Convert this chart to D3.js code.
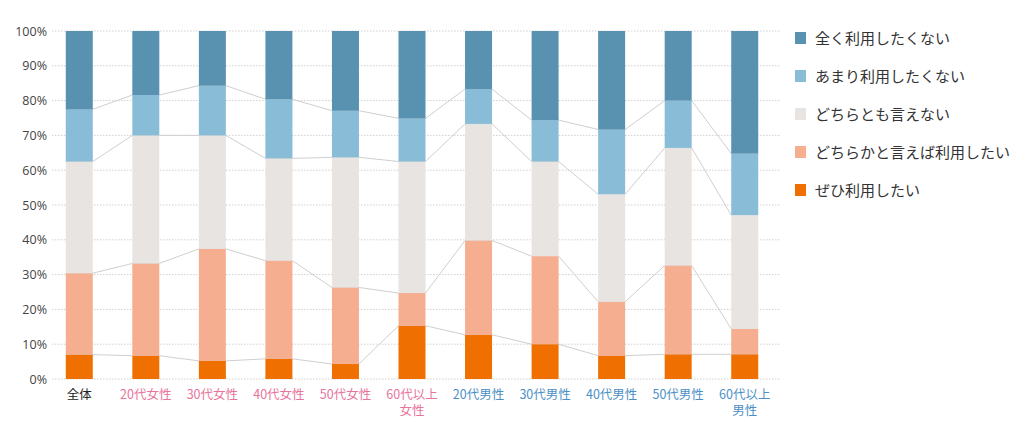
<!DOCTYPE html>
<html>
<head>
<meta charset="utf-8">
<script src="https://cdn.jsdelivr.net/npm/d3@7"></script>
<style>
  body { margin: 0; background: #fff; }
  text { font-family: "Noto Sans CJK JP", "Noto Sans", sans-serif; }
</style>
</head>
<body>
<div id="chart"></div>
<script>
// categories and series (percent of respondents)
var categories = ["全体", "20代女性", "30代女性", "40代女性", "50代女性", "60代以上\n女性",
  "20代男性", "30代男性", "40代男性", "50代男性", "60代以上\n男性"];
var categoryGroup = ["all", "f", "f", "f", "f", "f", "m", "m", "m", "m", "m"];

var seriesNames = ["ぜひ利用したい", "どちらかと言えば利用したい", "どちらとも言えない", "あまり利用したくない", "全く利用したくない"];
var zehi     = [7.0, 6.7, 5.2, 5.8, 4.3, 15.3, 12.7, 10.0, 6.7, 7.1, 7.1];
var dochiraka = [23.4, 26.5, 32.2, 28.2, 22.0, 9.4, 27.1, 25.3, 15.5, 25.5, 7.3];
var dochira  = [32.1, 36.8, 32.6, 29.4, 37.4, 37.8, 33.5, 27.2, 30.9, 33.8, 32.7];
var amari    = [15.0, 11.6, 14.3, 17.0, 13.4, 12.4, 10.0, 11.9, 18.6, 13.6, 17.7];
var mattaku  = [22.5, 18.4, 15.7, 19.6, 22.9, 25.1, 16.7, 25.6, 28.3, 20.0, 35.2];
var yTicks = [0, 10, 20, 30, 40, 50, 60, 70, 80, 90, 100];

var seriesValues = [zehi, dochiraka, dochira, amari, mattaku];
var colors = ["#ef6f00", "#f5ae8f", "#e8e4e1", "#89bcd7", "#5892b0"];
var labelColors = { all: "#222", f: "#e8739b", m: "#4c8fc6" };

var svgWidth = 1024, svgHeight = 432;
var plot = { left: 46, right: 778, top: 31, bottom: 379 };
var barWidth = 27;

var svg = d3.select("#chart").append("svg")
  .attr("width", svgWidth)
  .attr("height", svgHeight);

var x = d3.scaleBand()
  .domain(categories)
  .range([plot.left, plot.right])
  .padding(0);

var y = d3.scaleLinear()
  .domain([0, 100])
  .range([plot.bottom, plot.top]);

// build rows for the stack
var rows = categories.map(function(c, i) {
  var r = { cat: c, group: categoryGroup[i] };
  seriesNames.forEach(function(s, j) { r[s] = seriesValues[j][i]; });
  return r;
});
var stacked = d3.stack().keys(seriesNames)(rows);

// gridlines
svg.append("g").selectAll("line")
  .data(yTicks)
  .enter().append("line")
  .attr("x1", 52).attr("x2", 780)
  .attr("y1", d => y(d)).attr("y2", d => y(d))
  .attr("stroke", "#d0d0d0")
  .attr("stroke-width", 1)
  .attr("stroke-dasharray", "1.5,1.5");

// y labels
var yAxis = d3.axisLeft(y).tickValues(yTicks).tickFormat(d => d + "%").tickSize(0).tickPadding(0);
var yg = svg.append("g").attr("transform", "translate(47,0)").call(yAxis);
yg.select(".domain").remove();
yg.selectAll("text").attr("font-size", 12.5).attr("fill", "#444")
  .style("font-family", "'Open Sans', 'Noto Sans', sans-serif");

// connector lines between bars
var barLeft = d => x(d) + (x.bandwidth() - barWidth) / 2;
stacked.slice(0, 4).forEach(function(layer) {
  var pts = [];
  layer.forEach(function(seg, i) {
    pts.push([barLeft(categories[i]), y(seg[1])]);
    pts.push([barLeft(categories[i]) + barWidth, y(seg[1])]);
  });
  svg.append("path")
    .attr("d", d3.line()(pts))
    .attr("fill", "none")
    .attr("stroke", "#cfcfcf")
    .attr("stroke-width", 1);
});

// bars
svg.append("g").selectAll("g")
  .data(stacked)
  .enter().append("g")
  .attr("fill", (d, i) => colors[i])
  .selectAll("rect")
  .data(d => d)
  .enter().append("rect")
  .attr("x", d => barLeft(d.data.cat))
  .attr("y", d => y(d[1]))
  .attr("width", barWidth)
  .attr("height", d => y(d[0]) - y(d[1]));

// x labels
var xl = svg.append("g").selectAll("text")
  .data(rows)
  .enter().append("text")
  .attr("x", d => x(d.cat) + x.bandwidth() / 2)
  .attr("y", 399)
  .attr("text-anchor", "middle")
  .attr("font-size", 12.5)
  .attr("fill", d => labelColors[d.group]);
xl.each(function(d) {
  var lines = d.cat.split("\n");
  var t = d3.select(this);
  lines.forEach(function(l, k) {
    t.append("tspan").attr("x", x(d.cat) + x.bandwidth() / 2).attr("dy", k === 0 ? 0 : 16).text(l);
  });
});

// legend (top to bottom: reverse stack order)
var legendItems = seriesNames.map((s, i) => ({ name: s, color: colors[i] })).reverse();
var legend = svg.append("g").selectAll("g")
  .data(legendItems)
  .enter().append("g")
  .attr("transform", (d, i) => `translate(795, ${38 + i * 38})`);
legend.append("rect")
  .attr("x", 0).attr("y", -6)
  .attr("width", 11).attr("height", 12)
  .attr("fill", d => d.color);
legend.append("text")
  .attr("x", 20).attr("y", 5.5)
  .attr("font-size", 15)
  .attr("fill", "#333")
  .text(d => d.name);
</script>
</body>
</html>
